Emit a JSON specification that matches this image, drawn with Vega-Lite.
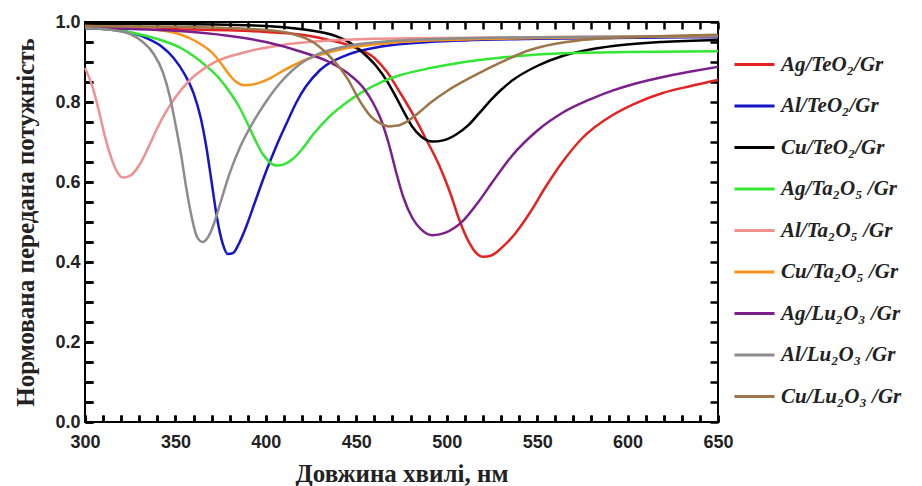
{
  "$schema": "https://vega.github.io/schema/vega-lite/v6.json",
  "width": 633,
  "height": 400,
  "autosize": {"type": "none"},
  "padding": {"left": 85, "top": 22, "right": 204, "bottom": 64},
  "background": "white",
  "config": {"view": {"stroke": "black", "strokeWidth": 2}},
  "data": {"values": [
      {"s":"Ag/TeO₂/Gr","x":300,"y":0.985},{"s":"Ag/TeO₂/Gr","x":350,"y":0.982},{"s":"Ag/TeO₂/Gr","x":400,"y":0.975},{"s":"Ag/TeO₂/Gr","x":420,"y":0.968},{"s":"Ag/TeO₂/Gr","x":435,"y":0.955},{"s":"Ag/TeO₂/Gr","x":450,"y":0.935},{"s":"Ag/TeO₂/Gr","x":460,"y":0.91},{"s":"Ag/TeO₂/Gr","x":467,"y":0.875},{"s":"Ag/TeO₂/Gr","x":474,"y":0.825},{"s":"Ag/TeO₂/Gr","x":481,"y":0.772},{"s":"Ag/TeO₂/Gr","x":488,"y":0.712},{"s":"Ag/TeO₂/Gr","x":496,"y":0.64},{"s":"Ag/TeO₂/Gr","x":502,"y":0.572},{"s":"Ag/TeO₂/Gr","x":507,"y":0.505},{"s":"Ag/TeO₂/Gr","x":512,"y":0.452},{"s":"Ag/TeO₂/Gr","x":516,"y":0.424},{"s":"Ag/TeO₂/Gr","x":520,"y":0.413},{"s":"Ag/TeO₂/Gr","x":525,"y":0.417},{"s":"Ag/TeO₂/Gr","x":530,"y":0.434},{"s":"Ag/TeO₂/Gr","x":538,"y":0.472},{"s":"Ag/TeO₂/Gr","x":546,"y":0.523},{"s":"Ag/TeO₂/Gr","x":555,"y":0.59},{"s":"Ag/TeO₂/Gr","x":564,"y":0.65},{"s":"Ag/TeO₂/Gr","x":575,"y":0.71},{"s":"Ag/TeO₂/Gr","x":592,"y":0.768},{"s":"Ag/TeO₂/Gr","x":605,"y":0.798},{"s":"Ag/TeO₂/Gr","x":619,"y":0.822},{"s":"Ag/TeO₂/Gr","x":635,"y":0.84},{"s":"Ag/TeO₂/Gr","x":650,"y":0.855},

      {"s":"Al/TeO₂/Gr","x":300,"y":0.985},{"s":"Al/TeO₂/Gr","x":320,"y":0.978},{"s":"Al/TeO₂/Gr","x":334,"y":0.96},{"s":"Al/TeO₂/Gr","x":342,"y":0.94},{"s":"Al/TeO₂/Gr","x":349,"y":0.91},{"s":"Al/TeO₂/Gr","x":355,"y":0.87},{"s":"Al/TeO₂/Gr","x":360,"y":0.822},{"s":"Al/TeO₂/Gr","x":364,"y":0.76},{"s":"Al/TeO₂/Gr","x":367,"y":0.69},{"s":"Al/TeO₂/Gr","x":370,"y":0.6},{"s":"Al/TeO₂/Gr","x":373,"y":0.51},{"s":"Al/TeO₂/Gr","x":376,"y":0.448},{"s":"Al/TeO₂/Gr","x":379,"y":0.42},{"s":"Al/TeO₂/Gr","x":382,"y":0.423},{"s":"Al/TeO₂/Gr","x":385,"y":0.445},{"s":"Al/TeO₂/Gr","x":389,"y":0.487},{"s":"Al/TeO₂/Gr","x":394,"y":0.55},{"s":"Al/TeO₂/Gr","x":400,"y":0.625},{"s":"Al/TeO₂/Gr","x":406,"y":0.692},{"s":"Al/TeO₂/Gr","x":412,"y":0.752},{"s":"Al/TeO₂/Gr","x":417,"y":0.8},{"s":"Al/TeO₂/Gr","x":422,"y":0.838},{"s":"Al/TeO₂/Gr","x":430,"y":0.88},{"s":"Al/TeO₂/Gr","x":445,"y":0.918},{"s":"Al/TeO₂/Gr","x":463,"y":0.938},{"s":"Al/TeO₂/Gr","x":490,"y":0.95},{"s":"Al/TeO₂/Gr","x":550,"y":0.958},{"s":"Al/TeO₂/Gr","x":650,"y":0.962},

      {"s":"Cu/TeO₂/Gr","x":300,"y":0.995},{"s":"Cu/TeO₂/Gr","x":350,"y":0.995},{"s":"Cu/TeO₂/Gr","x":400,"y":0.99},{"s":"Cu/TeO₂/Gr","x":420,"y":0.982},{"s":"Cu/TeO₂/Gr","x":435,"y":0.97},{"s":"Cu/TeO₂/Gr","x":445,"y":0.952},{"s":"Cu/TeO₂/Gr","x":454,"y":0.922},{"s":"Cu/TeO₂/Gr","x":461,"y":0.89},{"s":"Cu/TeO₂/Gr","x":467,"y":0.852},{"s":"Cu/TeO₂/Gr","x":472,"y":0.812},{"s":"Cu/TeO₂/Gr","x":476,"y":0.778},{"s":"Cu/TeO₂/Gr","x":481,"y":0.738},{"s":"Cu/TeO₂/Gr","x":486,"y":0.713},{"s":"Cu/TeO₂/Gr","x":492,"y":0.701},{"s":"Cu/TeO₂/Gr","x":498,"y":0.704},{"s":"Cu/TeO₂/Gr","x":505,"y":0.718},{"s":"Cu/TeO₂/Gr","x":512,"y":0.742},{"s":"Cu/TeO₂/Gr","x":518,"y":0.772},{"s":"Cu/TeO₂/Gr","x":525,"y":0.808},{"s":"Cu/TeO₂/Gr","x":530,"y":0.83},{"s":"Cu/TeO₂/Gr","x":536,"y":0.853},{"s":"Cu/TeO₂/Gr","x":550,"y":0.89},{"s":"Cu/TeO₂/Gr","x":564,"y":0.915},{"s":"Cu/TeO₂/Gr","x":580,"y":0.932},{"s":"Cu/TeO₂/Gr","x":592,"y":0.94},{"s":"Cu/TeO₂/Gr","x":619,"y":0.95},{"s":"Cu/TeO₂/Gr","x":650,"y":0.955},

      {"s":"Ag/Ta₂O₅ /Gr","x":300,"y":0.985},{"s":"Ag/Ta₂O₅ /Gr","x":320,"y":0.978},{"s":"Ag/Ta₂O₅ /Gr","x":334,"y":0.965},{"s":"Ag/Ta₂O₅ /Gr","x":345,"y":0.95},{"s":"Ag/Ta₂O₅ /Gr","x":353,"y":0.935},{"s":"Ag/Ta₂O₅ /Gr","x":360,"y":0.915},{"s":"Ag/Ta₂O₅ /Gr","x":367,"y":0.89},{"s":"Ag/Ta₂O₅ /Gr","x":374,"y":0.86},{"s":"Ag/Ta₂O₅ /Gr","x":380,"y":0.825},{"s":"Ag/Ta₂O₅ /Gr","x":385,"y":0.79},{"s":"Ag/Ta₂O₅ /Gr","x":390,"y":0.745},{"s":"Ag/Ta₂O₅ /Gr","x":394,"y":0.706},{"s":"Ag/Ta₂O₅ /Gr","x":398,"y":0.672},{"s":"Ag/Ta₂O₅ /Gr","x":402,"y":0.65},{"s":"Ag/Ta₂O₅ /Gr","x":406,"y":0.641},{"s":"Ag/Ta₂O₅ /Gr","x":410,"y":0.644},{"s":"Ag/Ta₂O₅ /Gr","x":415,"y":0.658},{"s":"Ag/Ta₂O₅ /Gr","x":420,"y":0.682},{"s":"Ag/Ta₂O₅ /Gr","x":426,"y":0.718},{"s":"Ag/Ta₂O₅ /Gr","x":435,"y":0.763},{"s":"Ag/Ta₂O₅ /Gr","x":445,"y":0.8},{"s":"Ag/Ta₂O₅ /Gr","x":463,"y":0.848},{"s":"Ag/Ta₂O₅ /Gr","x":475,"y":0.868},{"s":"Ag/Ta₂O₅ /Gr","x":491,"y":0.885},{"s":"Ag/Ta₂O₅ /Gr","x":510,"y":0.9},{"s":"Ag/Ta₂O₅ /Gr","x":528,"y":0.91},{"s":"Ag/Ta₂O₅ /Gr","x":555,"y":0.92},{"s":"Ag/Ta₂O₅ /Gr","x":600,"y":0.925},{"s":"Ag/Ta₂O₅ /Gr","x":650,"y":0.927},

      {"s":"Al/Ta₂O₅ /Gr","x":300,"y":0.885},{"s":"Al/Ta₂O₅ /Gr","x":304,"y":0.84},{"s":"Al/Ta₂O₅ /Gr","x":308,"y":0.772},{"s":"Al/Ta₂O₅ /Gr","x":311,"y":0.714},{"s":"Al/Ta₂O₅ /Gr","x":314,"y":0.667},{"s":"Al/Ta₂O₅ /Gr","x":317,"y":0.632},{"s":"Al/Ta₂O₅ /Gr","x":321,"y":0.611},{"s":"Al/Ta₂O₅ /Gr","x":325,"y":0.616},{"s":"Al/Ta₂O₅ /Gr","x":330,"y":0.642},{"s":"Al/Ta₂O₅ /Gr","x":335,"y":0.686},{"s":"Al/Ta₂O₅ /Gr","x":340,"y":0.735},{"s":"Al/Ta₂O₅ /Gr","x":345,"y":0.777},{"s":"Al/Ta₂O₅ /Gr","x":350,"y":0.812},{"s":"Al/Ta₂O₅ /Gr","x":358,"y":0.855},{"s":"Al/Ta₂O₅ /Gr","x":371,"y":0.898},{"s":"Al/Ta₂O₅ /Gr","x":389,"y":0.925},{"s":"Al/Ta₂O₅ /Gr","x":408,"y":0.942},{"s":"Al/Ta₂O₅ /Gr","x":430,"y":0.952},{"s":"Al/Ta₂O₅ /Gr","x":460,"y":0.958},{"s":"Al/Ta₂O₅ /Gr","x":550,"y":0.962},{"s":"Al/Ta₂O₅ /Gr","x":650,"y":0.965},

      {"s":"Cu/Ta₂O₅ /Gr","x":300,"y":0.99},{"s":"Cu/Ta₂O₅ /Gr","x":330,"y":0.985},{"s":"Cu/Ta₂O₅ /Gr","x":352,"y":0.97},{"s":"Cu/Ta₂O₅ /Gr","x":362,"y":0.95},{"s":"Cu/Ta₂O₅ /Gr","x":371,"y":0.92},{"s":"Cu/Ta₂O₅ /Gr","x":376,"y":0.892},{"s":"Cu/Ta₂O₅ /Gr","x":380,"y":0.867},{"s":"Cu/Ta₂O₅ /Gr","x":384,"y":0.849},{"s":"Cu/Ta₂O₅ /Gr","x":388,"y":0.842},{"s":"Cu/Ta₂O₅ /Gr","x":392,"y":0.843},{"s":"Cu/Ta₂O₅ /Gr","x":397,"y":0.849},{"s":"Cu/Ta₂O₅ /Gr","x":403,"y":0.861},{"s":"Cu/Ta₂O₅ /Gr","x":408,"y":0.874},{"s":"Cu/Ta₂O₅ /Gr","x":419,"y":0.9},{"s":"Cu/Ta₂O₅ /Gr","x":430,"y":0.918},{"s":"Cu/Ta₂O₅ /Gr","x":445,"y":0.935},{"s":"Cu/Ta₂O₅ /Gr","x":470,"y":0.948},{"s":"Cu/Ta₂O₅ /Gr","x":500,"y":0.955},{"s":"Cu/Ta₂O₅ /Gr","x":550,"y":0.96},{"s":"Cu/Ta₂O₅ /Gr","x":650,"y":0.965},

      {"s":"Ag/Lu₂O₃ /Gr","x":300,"y":0.985},{"s":"Ag/Lu₂O₃ /Gr","x":350,"y":0.978},{"s":"Ag/Lu₂O₃ /Gr","x":380,"y":0.965},{"s":"Ag/Lu₂O₃ /Gr","x":400,"y":0.95},{"s":"Ag/Lu₂O₃ /Gr","x":420,"y":0.925},{"s":"Ag/Lu₂O₃ /Gr","x":435,"y":0.9},{"s":"Ag/Lu₂O₃ /Gr","x":445,"y":0.873},{"s":"Ag/Lu₂O₃ /Gr","x":454,"y":0.835},{"s":"Ag/Lu₂O₃ /Gr","x":459,"y":0.8},{"s":"Ag/Lu₂O₃ /Gr","x":464,"y":0.752},{"s":"Ag/Lu₂O₃ /Gr","x":468,"y":0.695},{"s":"Ag/Lu₂O₃ /Gr","x":472,"y":0.625},{"s":"Ag/Lu₂O₃ /Gr","x":476,"y":0.562},{"s":"Ag/Lu₂O₃ /Gr","x":481,"y":0.51},{"s":"Ag/Lu₂O₃ /Gr","x":486,"y":0.481},{"s":"Ag/Lu₂O₃ /Gr","x":492,"y":0.467},{"s":"Ag/Lu₂O₃ /Gr","x":499,"y":0.473},{"s":"Ag/Lu₂O₃ /Gr","x":509,"y":0.503},{"s":"Ag/Lu₂O₃ /Gr","x":518,"y":0.553},{"s":"Ag/Lu₂O₃ /Gr","x":525,"y":0.598},{"s":"Ag/Lu₂O₃ /Gr","x":536,"y":0.665},{"s":"Ag/Lu₂O₃ /Gr","x":550,"y":0.728},{"s":"Ag/Lu₂O₃ /Gr","x":564,"y":0.773},{"s":"Ag/Lu₂O₃ /Gr","x":580,"y":0.808},{"s":"Ag/Lu₂O₃ /Gr","x":592,"y":0.829},{"s":"Ag/Lu₂O₃ /Gr","x":605,"y":0.847},{"s":"Ag/Lu₂O₃ /Gr","x":619,"y":0.862},{"s":"Ag/Lu₂O₃ /Gr","x":635,"y":0.876},{"s":"Ag/Lu₂O₃ /Gr","x":650,"y":0.888},

      {"s":"Al/Lu₂O₃ /Gr","x":300,"y":0.985},{"s":"Al/Lu₂O₃ /Gr","x":315,"y":0.98},{"s":"Al/Lu₂O₃ /Gr","x":325,"y":0.97},{"s":"Al/Lu₂O₃ /Gr","x":332,"y":0.95},{"s":"Al/Lu₂O₃ /Gr","x":338,"y":0.92},{"s":"Al/Lu₂O₃ /Gr","x":343,"y":0.875},{"s":"Al/Lu₂O₃ /Gr","x":347,"y":0.812},{"s":"Al/Lu₂O₃ /Gr","x":350,"y":0.745},{"s":"Al/Lu₂O₃ /Gr","x":353,"y":0.672},{"s":"Al/Lu₂O₃ /Gr","x":356,"y":0.585},{"s":"Al/Lu₂O₃ /Gr","x":359,"y":0.512},{"s":"Al/Lu₂O₃ /Gr","x":362,"y":0.462},{"s":"Al/Lu₂O₃ /Gr","x":365,"y":0.45},{"s":"Al/Lu₂O₃ /Gr","x":368,"y":0.462},{"s":"Al/Lu₂O₃ /Gr","x":371,"y":0.492},{"s":"Al/Lu₂O₃ /Gr","x":375,"y":0.55},{"s":"Al/Lu₂O₃ /Gr","x":380,"y":0.622},{"s":"Al/Lu₂O₃ /Gr","x":386,"y":0.69},{"s":"Al/Lu₂O₃ /Gr","x":393,"y":0.75},{"s":"Al/Lu₂O₃ /Gr","x":400,"y":0.8},{"s":"Al/Lu₂O₃ /Gr","x":408,"y":0.848},{"s":"Al/Lu₂O₃ /Gr","x":419,"y":0.895},{"s":"Al/Lu₂O₃ /Gr","x":430,"y":0.922},{"s":"Al/Lu₂O₃ /Gr","x":445,"y":0.94},{"s":"Al/Lu₂O₃ /Gr","x":480,"y":0.955},{"s":"Al/Lu₂O₃ /Gr","x":550,"y":0.962},{"s":"Al/Lu₂O₃ /Gr","x":650,"y":0.965},

      {"s":"Cu/Lu₂O₃ /Gr","x":300,"y":0.99},{"s":"Cu/Lu₂O₃ /Gr","x":350,"y":0.988},{"s":"Cu/Lu₂O₃ /Gr","x":400,"y":0.98},{"s":"Cu/Lu₂O₃ /Gr","x":415,"y":0.97},{"s":"Cu/Lu₂O₃ /Gr","x":426,"y":0.95},{"s":"Cu/Lu₂O₃ /Gr","x":434,"y":0.92},{"s":"Cu/Lu₂O₃ /Gr","x":441,"y":0.885},{"s":"Cu/Lu₂O₃ /Gr","x":446,"y":0.852},{"s":"Cu/Lu₂O₃ /Gr","x":450,"y":0.818},{"s":"Cu/Lu₂O₃ /Gr","x":454,"y":0.788},{"s":"Cu/Lu₂O₃ /Gr","x":458,"y":0.764},{"s":"Cu/Lu₂O₃ /Gr","x":463,"y":0.747},{"s":"Cu/Lu₂O₃ /Gr","x":468,"y":0.739},{"s":"Cu/Lu₂O₃ /Gr","x":473,"y":0.741},{"s":"Cu/Lu₂O₃ /Gr","x":478,"y":0.751},{"s":"Cu/Lu₂O₃ /Gr","x":485,"y":0.775},{"s":"Cu/Lu₂O₃ /Gr","x":491,"y":0.798},{"s":"Cu/Lu₂O₃ /Gr","x":500,"y":0.827},{"s":"Cu/Lu₂O₃ /Gr","x":509,"y":0.851},{"s":"Cu/Lu₂O₃ /Gr","x":520,"y":0.877},{"s":"Cu/Lu₂O₃ /Gr","x":529,"y":0.897},{"s":"Cu/Lu₂O₃ /Gr","x":546,"y":0.93},{"s":"Cu/Lu₂O₃ /Gr","x":573,"y":0.954},{"s":"Cu/Lu₂O₃ /Gr","x":610,"y":0.963},{"s":"Cu/Lu₂O₃ /Gr","x":650,"y":0.968}
  ]},
  "layer": [
    {
      "mark": {"type": "line", "interpolate": "monotone", "strokeWidth": 2.5},
      "encoding": {
        "x": {
          "field": "x", "type": "quantitative",
          "scale": {"domain": [300, 650], "nice": false, "zero": false},
          "axis": {
            "orient": "bottom",
            "values": [300,310,320,330,340,350,360,370,380,390,400,410,420,430,440,450,460,470,480,490,500,510,520,530,540,550,560,570,580,590,600,610,620,630,640,650],
            "labelExpr": "datum.value % 50 === 0 ? datum.label : ''",
            "format": "d",
            "domain": false,
            "ticks": true, "tickSize": -7, "tickColor": "black", "tickWidth": 2.5,
            "grid": true, "gridColor": "black", "gridWidth": 2.5, "gridOpacity": 1, "gridDash": [7, 386, 7, 0],
            "labelOverlap": false, "labelFlush": false,
            "labelFont": "Liberation Sans", "labelFontWeight": "bold", "labelFontSize": 18, "labelColor": "#222",
            "labelPadding": 18,
            "title": "Довжина хвилі, нм",
            "titleFont": "Liberation Serif", "titleFontSize": 25, "titleFontWeight": "bold", "titleColor": "#222",
            "titlePadding": 10
          }
        },
        "y": {
          "field": "y", "type": "quantitative",
          "scale": {"domain": [0, 1], "nice": false},
          "axis": {
            "orient": "left",
            "values": [0,0.05,0.1,0.15,0.2,0.25,0.3,0.35,0.4,0.45,0.5,0.55,0.6,0.65,0.7,0.75,0.8,0.85,0.9,0.95,1],
            "labelExpr": "abs(datum.value*5 - round(datum.value*5)) < 0.001 ? format(datum.value, '.1f') : ''",
            "domain": false,
            "ticks": true, "tickSize": -8, "tickColor": "black", "tickWidth": 2.5,
            "grid": true, "gridColor": "black", "gridWidth": 2.5, "gridOpacity": 1, "gridDash": [8, 617, 8, 0],
            "labelOverlap": false, "labelFlush": false,
            "labelFont": "Liberation Sans", "labelFontWeight": "bold", "labelFontSize": 18, "labelColor": "#222",
            "labelPadding": 13,
            "title": "Нормована передана потужність",
            "titleFont": "Liberation Serif", "titleFontSize": 25, "titleFontWeight": "bold", "titleColor": "#222",
            "titlePadding": 16
          }
        },
        "color": {
          "field": "s", "type": "nominal",
          "scale": {
            "domain": ["Ag/TeO₂/Gr","Al/TeO₂/Gr","Cu/TeO₂/Gr","Ag/Ta₂O₅ /Gr","Al/Ta₂O₅ /Gr","Cu/Ta₂O₅ /Gr","Ag/Lu₂O₃ /Gr","Al/Lu₂O₃ /Gr","Cu/Lu₂O₃ /Gr"],
            "range": ["#e32222","#1414c8","#000000","#33e633","#f09090","#f7941d","#7b1f8c","#8c8c8c","#9c7548"]
          },
          "legend": {
            "orient": "none", "legendX": 648, "legendY": 21,
            "title": null,
            "symbolType": "stroke", "symbolSize": 1600, "symbolStrokeWidth": 3,
            "labelFont": "Liberation Serif", "labelFontStyle": "italic", "labelFontWeight": "bold",
            "labelFontSize": 21, "labelColor": "#222", "labelOffset": 5,
            "rowPadding": 9.5, "labelLimit": 300, "symbolLimit": 0
          }
        }
      }
    }
  ]
}
